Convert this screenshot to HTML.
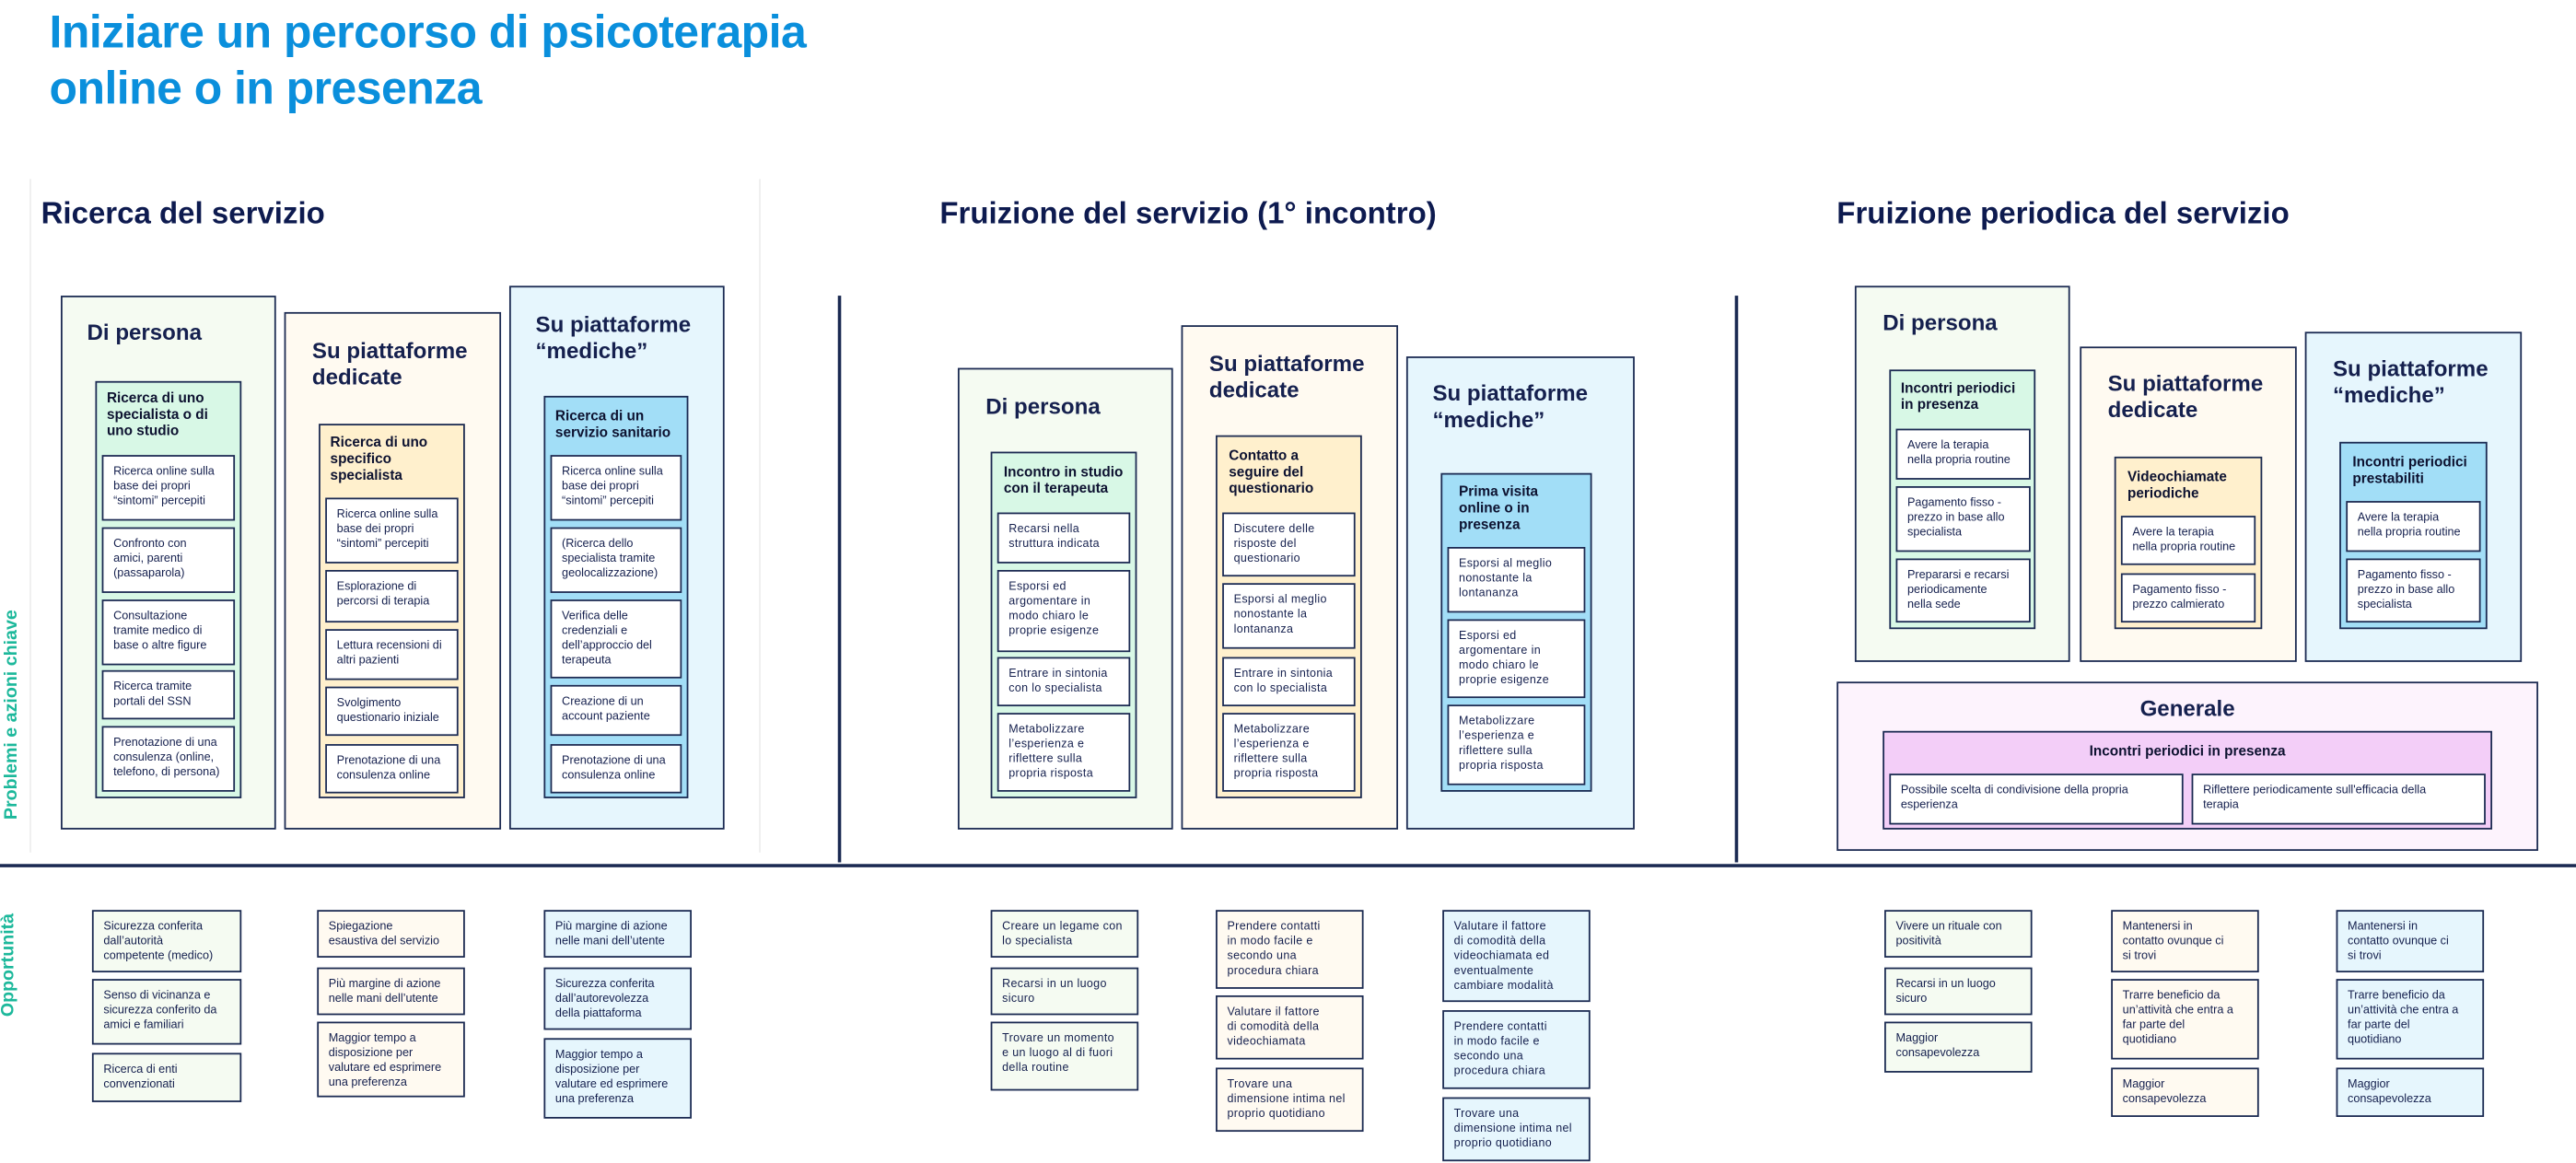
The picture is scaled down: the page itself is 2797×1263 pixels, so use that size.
<!DOCTYPE html>
<html><head><meta charset="utf-8">
<style>
html,body{margin:0;padding:0;background:#fff;}
body{width:2797px;height:1263px;overflow:hidden;position:relative;}
#w{position:absolute;left:0;top:0;width:1568px;height:708px;transform:scale(1.7838);transform-origin:0 0;font-family:"Liberation Sans",sans-serif;color:#15204e;}
#w div{position:absolute;box-sizing:border-box;}
.b{border:1.2px solid #1b2a52;}
.g{background:#f5fbf2;} .gi{background:#d8f8e6;}
.c{background:#fffaf1;} .ci{background:#fff0cd;}
.u{background:#e6f6fd;} .ui{background:#a2def7;}
.p{background:#fdf3fd;} .pi{background:#f3cef8;}
.it{background:#fff;font-size:7.1px;line-height:9px;padding:5px 0 0 6px;white-space:nowrap;overflow:hidden;}
.op{font-size:7.1px;line-height:9px;padding:5px 0 0 6px;white-space:nowrap;overflow:hidden;}
.t{font-size:13.5px;font-weight:bold;line-height:16px;white-space:nowrap;}
.h{font-size:8.6px;font-weight:bold;line-height:10px;color:#0d1230;white-space:nowrap;}
.s{font-size:18.5px;font-weight:bold;white-space:nowrap;color:#0d1a4f;}
.s2 .it,.s2 .op{font-size:7px;letter-spacing:0.2px;}
</style></head><body><div id="w">

<div style="left:30px;top:3px;font-size:28px;line-height:34px;font-weight:bold;color:#0a8fdc;letter-spacing:-0.3px;">Iniziare un percorso di psicoterapia<br>online o in presenza</div>

<div style="left:18px;top:109px;width:445px;height:410px;border-left:1px solid #eee;border-right:1px solid #eee;"></div>
<div class="s" style="left:25px;top:119px;">Ricerca del servizio</div>
<div class="s" style="left:572px;top:119px;">Fruizione del servizio (1° incontro)</div>
<div class="s" style="left:1118px;top:119px;">Fruizione periodica del servizio</div>

<div style="left:510px;top:180px;width:2px;height:345px;background:#1b2a52;"></div>
<div style="left:1056px;top:180px;width:2px;height:345px;background:#1b2a52;"></div>
<div style="left:0;top:526px;width:1568px;height:2px;background:#1b2a52;"></div>

<div style="left:-52px;top:432px;width:120px;height:14px;transform:rotate(-90deg);font-size:11px;font-weight:bold;color:#1cb89b;text-align:center;white-space:nowrap;">Problemi e azioni chiave</div>
<div style="left:-24px;top:582px;width:60px;height:14px;transform:rotate(-90deg);font-size:11px;font-weight:bold;color:#1cb89b;text-align:center;">Opportunità</div>

<!-- Section 1 -->
<div class="b g" style="left:37px;top:180px;width:131px;height:325px;"></div>
<div class="t" style="left:53px;top:195px;">Di persona</div>
<div class="b gi" style="left:58px;top:232px;width:89px;height:254px;"></div>
<div class="h" style="left:65px;top:237px;">Ricerca di uno<br>specialista o di<br>uno studio</div>
<div class="b it" style="left:62px;top:277px;width:81px;height:40px;">Ricerca online sulla<br>base dei propri<br>“sintomi” percepiti</div>
<div class="b it" style="left:62px;top:321px;width:81px;height:40px;">Confronto con<br>amici, parenti<br>(passaparola)</div>
<div class="b it" style="left:62px;top:365px;width:81px;height:40px;">Consultazione<br>tramite medico di<br>base o altre figure</div>
<div class="b it" style="left:62px;top:408px;width:81px;height:30px;">Ricerca tramite<br>portali del SSN</div>
<div class="b it" style="left:62px;top:442px;width:81px;height:40px;">Prenotazione di una<br>consulenza (online,<br>telefono, di persona)</div>

<div class="b c" style="left:173px;top:190px;width:132px;height:315px;"></div>
<div class="t" style="left:190px;top:206px;">Su piattaforme<br>dedicate</div>
<div class="b ci" style="left:194px;top:258px;width:89px;height:228px;"></div>
<div class="h" style="left:201px;top:264px;">Ricerca di uno<br>specifico<br>specialista</div>
<div class="b it" style="left:198px;top:303px;width:81px;height:40px;">Ricerca online sulla<br>base dei propri<br>“sintomi” percepiti</div>
<div class="b it" style="left:198px;top:347px;width:81px;height:32px;">Esplorazione di<br>percorsi di terapia</div>
<div class="b it" style="left:198px;top:383px;width:81px;height:31px;">Lettura recensioni di<br>altri pazienti</div>
<div class="b it" style="left:198px;top:418px;width:81px;height:30px;">Svolgimento<br>questionario iniziale</div>
<div class="b it" style="left:198px;top:453px;width:81px;height:30px;">Prenotazione di una<br>consulenza online</div>

<div class="b u" style="left:310px;top:174px;width:131px;height:331px;"></div>
<div class="t" style="left:326px;top:190px;">Su piattaforme<br>“mediche”</div>
<div class="b ui" style="left:331px;top:241px;width:88px;height:245px;"></div>
<div class="h" style="left:338px;top:248px;">Ricerca di un<br>servizio sanitario</div>
<div class="b it" style="left:335px;top:277px;width:80px;height:40px;">Ricerca online sulla<br>base dei propri<br>“sintomi” percepiti</div>
<div class="b it" style="left:335px;top:321px;width:80px;height:40px;">(Ricerca dello<br>specialista tramite<br>geolocalizzazione)</div>
<div class="b it" style="left:335px;top:365px;width:80px;height:48px;">Verifica delle<br>credenziali e<br>dell’approccio del<br>terapeuta</div>
<div class="b it" style="left:335px;top:417px;width:80px;height:31px;">Creazione di un<br>account paziente</div>
<div class="b it" style="left:335px;top:453px;width:80px;height:30px;">Prenotazione di una<br>consulenza online</div>

<div class="b op g" style="left:56px;top:554px;width:91px;height:38px;">Sicurezza conferita<br>dall’autorità<br>competente (medico)</div>
<div class="b op g" style="left:56px;top:596px;width:91px;height:40px;">Senso di vicinanza e<br>sicurezza conferito da<br>amici e familiari</div>
<div class="b op g" style="left:56px;top:641px;width:91px;height:30px;">Ricerca di enti<br>convenzionati</div>
<div class="b op c" style="left:193px;top:554px;width:90px;height:29px;">Spiegazione<br>esaustiva del servizio</div>
<div class="b op c" style="left:193px;top:589px;width:90px;height:29px;">Più margine di azione<br>nelle mani dell’utente</div>
<div class="b op c" style="left:193px;top:622px;width:90px;height:46px;">Maggior tempo a<br>disposizione per<br>valutare ed esprimere<br>una preferenza</div>
<div class="b op u" style="left:331px;top:554px;width:90px;height:29px;">Più margine di azione<br>nelle mani dell’utente</div>
<div class="b op u" style="left:331px;top:589px;width:90px;height:38px;">Sicurezza conferita<br>dall’autorevolezza<br>della piattaforma</div>
<div class="b op u" style="left:331px;top:632px;width:90px;height:49px;">Maggior tempo a<br>disposizione per<br>valutare ed esprimere<br>una preferenza</div>

<!-- Section 2 -->
<div class="s2">
<div class="b g" style="left:583px;top:224px;width:131px;height:281px;"></div>
<div class="t" style="left:600px;top:240px;">Di persona</div>
<div class="b gi" style="left:603px;top:275px;width:89px;height:211px;"></div>
<div class="h" style="left:611px;top:282px;">Incontro in studio<br>con il terapeuta</div>
<div class="b it" style="left:607px;top:312px;width:81px;height:31px;">Recarsi nella<br>struttura indicata</div>
<div class="b it" style="left:607px;top:347px;width:81px;height:50px;">Esporsi ed<br>argomentare in<br>modo chiaro le<br>proprie esigenze</div>
<div class="b it" style="left:607px;top:400px;width:81px;height:30px;">Entrare in sintonia<br>con lo specialista</div>
<div class="b it" style="left:607px;top:434px;width:81px;height:48px;">Metabolizzare<br>l’esperienza e<br>riflettere sulla<br>propria risposta</div>

<div class="b c" style="left:719px;top:198px;width:132px;height:307px;"></div>
<div class="t" style="left:736px;top:214px;">Su piattaforme<br>dedicate</div>
<div class="b ci" style="left:740px;top:265px;width:89px;height:221px;"></div>
<div class="h" style="left:748px;top:272px;">Contatto a<br>seguire del<br>questionario</div>
<div class="b it" style="left:744px;top:312px;width:81px;height:39px;">Discutere delle<br>risposte del<br>questionario</div>
<div class="b it" style="left:744px;top:355px;width:81px;height:40px;">Esporsi al meglio<br>nonostante la<br>lontananza</div>
<div class="b it" style="left:744px;top:400px;width:81px;height:30px;">Entrare in sintonia<br>con lo specialista</div>
<div class="b it" style="left:744px;top:434px;width:81px;height:48px;">Metabolizzare<br>l’esperienza e<br>riflettere sulla<br>propria risposta</div>

<div class="b u" style="left:856px;top:217px;width:139px;height:288px;"></div>
<div class="t" style="left:872px;top:232px;">Su piattaforme<br>“mediche”</div>
<div class="b ui" style="left:877px;top:288px;width:92px;height:194px;"></div>
<div class="h" style="left:888px;top:294px;">Prima visita<br>online o in<br>presenza</div>
<div class="b it" style="left:881px;top:333px;width:84px;height:40px;">Esporsi al meglio<br>nonostante la<br>lontananza</div>
<div class="b it" style="left:881px;top:377px;width:84px;height:48px;">Esporsi ed<br>argomentare in<br>modo chiaro le<br>proprie esigenze</div>
<div class="b it" style="left:881px;top:429px;width:84px;height:49px;">Metabolizzare<br>l’esperienza e<br>riflettere sulla<br>propria risposta</div>

<div class="b op g" style="left:603px;top:554px;width:90px;height:29px;">Creare un legame con<br>lo specialista</div>
<div class="b op g" style="left:603px;top:589px;width:90px;height:29px;">Recarsi in un luogo<br>sicuro</div>
<div class="b op g" style="left:603px;top:622px;width:90px;height:42px;">Trovare un momento<br>e un luogo al di fuori<br>della routine</div>
<div class="b op c" style="left:740px;top:554px;width:90px;height:48px;">Prendere contatti<br>in modo facile e<br>secondo una<br>procedura chiara</div>
<div class="b op c" style="left:740px;top:606px;width:90px;height:39px;">Valutare il fattore<br>di comodità della<br>videochiamata</div>
<div class="b op c" style="left:740px;top:650px;width:90px;height:39px;">Trovare una<br>dimensione intima nel<br>proprio quotidiano</div>
<div class="b op u" style="left:878px;top:554px;width:90px;height:56px;">Valutare il fattore<br>di comodità della<br>videochiamata ed<br>eventualmente<br>cambiare modalità</div>
<div class="b op u" style="left:878px;top:615px;width:90px;height:48px;">Prendere contatti<br>in modo facile e<br>secondo una<br>procedura chiara</div>
<div class="b op u" style="left:878px;top:668px;width:90px;height:39px;">Trovare una<br>dimensione intima nel<br>proprio quotidiano</div>
</div>

<!-- Section 3 -->
<div class="b g" style="left:1129px;top:174px;width:131px;height:229px;"></div>
<div class="t" style="left:1146px;top:189px;">Di persona</div>
<div class="b gi" style="left:1150px;top:225px;width:89px;height:158px;"></div>
<div class="h" style="left:1157px;top:231px;">Incontri periodici<br>in presenza</div>
<div class="b it" style="left:1154px;top:261px;width:82px;height:31px;">Avere la terapia<br>nella propria routine</div>
<div class="b it" style="left:1154px;top:296px;width:82px;height:40px;">Pagamento fisso -<br>prezzo in base allo<br>specialista</div>
<div class="b it" style="left:1154px;top:340px;width:82px;height:39px;">Prepararsi e recarsi<br>periodicamente<br>nella sede</div>

<div class="b c" style="left:1266px;top:211px;width:132px;height:192px;"></div>
<div class="t" style="left:1283px;top:226px;">Su piattaforme<br>dedicate</div>
<div class="b ci" style="left:1287px;top:278px;width:90px;height:105px;"></div>
<div class="h" style="left:1295px;top:285px;">Videochiamate<br>periodiche</div>
<div class="b it" style="left:1291px;top:314px;width:82px;height:30px;">Avere la terapia<br>nella propria routine</div>
<div class="b it" style="left:1291px;top:349px;width:82px;height:30px;">Pagamento fisso -<br>prezzo calmierato</div>

<div class="b u" style="left:1403px;top:202px;width:132px;height:201px;"></div>
<div class="t" style="left:1420px;top:217px;">Su piattaforme<br>“mediche”</div>
<div class="b ui" style="left:1424px;top:269px;width:90px;height:114px;"></div>
<div class="h" style="left:1432px;top:276px;">Incontri periodici<br>prestabiliti</div>
<div class="b it" style="left:1428px;top:305px;width:82px;height:31px;">Avere la terapia<br>nella propria routine</div>
<div class="b it" style="left:1428px;top:340px;width:82px;height:39px;">Pagamento fisso -<br>prezzo in base allo<br>specialista</div>

<div class="b p" style="left:1118px;top:415px;width:427px;height:103px;"></div>
<div class="t" style="left:1118px;top:424px;width:427px;text-align:center;">Generale</div>
<div class="b pi" style="left:1146px;top:445px;width:371px;height:60px;"></div>
<div class="h" style="left:1146px;top:452px;width:371px;text-align:center;">Incontri periodici in presenza</div>
<div class="b it" style="left:1150px;top:471px;width:179px;height:31px;">Possibile scelta di condivisione della propria<br>esperienza</div>
<div class="b it" style="left:1334px;top:471px;width:179px;height:31px;">Riflettere periodicamente sull'efficacia della<br>terapia</div>

<div class="b op g" style="left:1147px;top:554px;width:90px;height:29px;">Vivere un rituale con<br>positività</div>
<div class="b op g" style="left:1147px;top:589px;width:90px;height:29px;">Recarsi in un luogo<br>sicuro</div>
<div class="b op g" style="left:1147px;top:622px;width:90px;height:31px;">Maggior<br>consapevolezza</div>
<div class="b op c" style="left:1285px;top:554px;width:90px;height:38px;">Mantenersi in<br>contatto ovunque ci<br>si trovi</div>
<div class="b op c" style="left:1285px;top:596px;width:90px;height:49px;">Trarre beneficio da<br>un’attività che entra a<br>far parte del<br>quotidiano</div>
<div class="b op c" style="left:1285px;top:650px;width:90px;height:30px;">Maggior<br>consapevolezza</div>
<div class="b op u" style="left:1422px;top:554px;width:90px;height:38px;">Mantenersi in<br>contatto ovunque ci<br>si trovi</div>
<div class="b op u" style="left:1422px;top:596px;width:90px;height:49px;">Trarre beneficio da<br>un’attività che entra a<br>far parte del<br>quotidiano</div>
<div class="b op u" style="left:1422px;top:650px;width:90px;height:30px;">Maggior<br>consapevolezza</div>

</div></body></html>
